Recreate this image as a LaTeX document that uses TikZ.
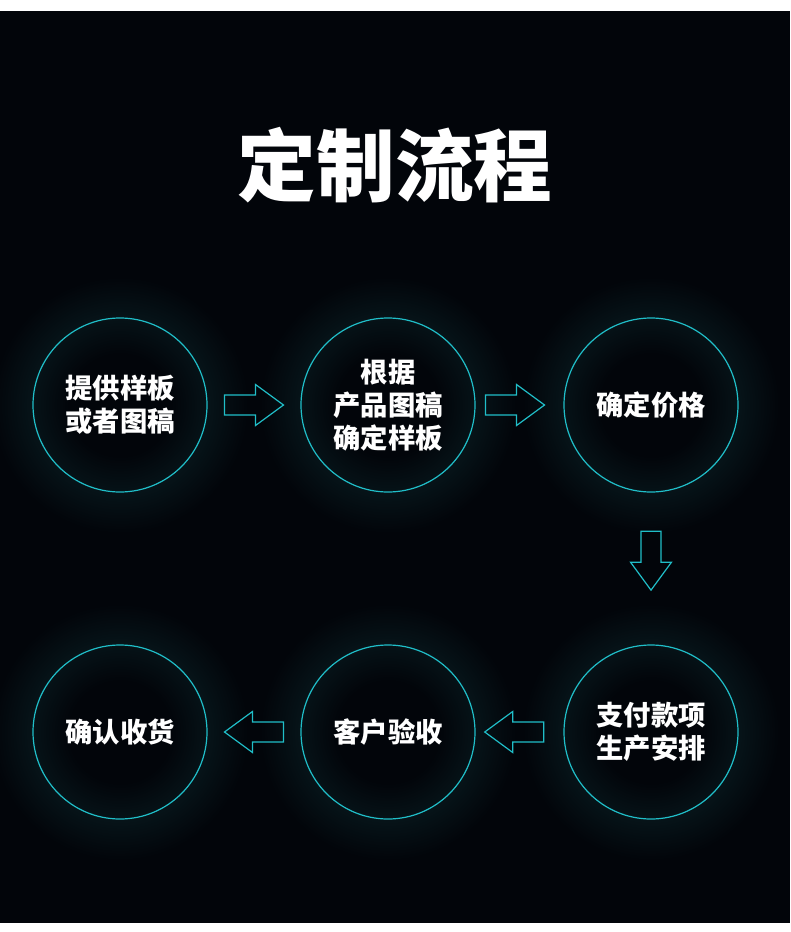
\documentclass[tikz,border=0pt]{standalone}
\usepackage{fontspec}
\newfontfamily\cjk{Noto Sans CJK SC}
\usetikzlibrary{calc, positioning}

\definecolor{bgdark}{RGB}{2,5,10}
\definecolor{ringcyan}{RGB}{32,190,200}
\definecolor{glowteal}{RGB}{6,19,24}

\pgfdeclareradialshading{ringglow}{\pgfpoint{0bp}{0bp}}{%
  color(0bp)=(bgdark); color(10bp)=(bgdark); color(17.4bp)=(glowteal);
  color(25bp)=(bgdark); color(50bp)=(bgdark)}

\tikzset{
  stepcircle/.style={circle, draw=ringcyan, line width=0.9pt, minimum size=130.5pt,
    inner sep=0pt, align=center, text=white,
    font=\cjk\bfseries\fontsize{20.5}{24.8}\selectfont},
  arrowline/.style={draw=ringcyan, line width=0.9pt, line join=miter},
  flowarrow/.pic={
    \draw[arrowline] (-29.5,-10) -- (1.5,-10) -- (1.5,-20.5) -- (29.5,0)
      -- (1.5,20.5) -- (1.5,10) -- (-29.5,10) -- cycle;
  }
}

\begin{document}
\begin{tikzpicture}[x=0.75pt, y=-0.75pt]
    \useasboundingbox (0,0) rectangle (790,932);

    % 1. 背景
    \fill[white] (0,0) rectangle (790,932);
    \fill[bgdark] (0,11) rectangle (790,923);

    % 2. 标题
    \node[text=white, font=\cjk\bfseries\fontsize{59}{59}\selectfont] (title) at (395,165) {定制流程};

    % 3. 光晕
    \foreach \cx/\cy in {120/405, 388/405, 651/405, 120/732, 388/732, 651/732}{
      \shade[shading=ringglow] (\cx,\cy) circle (128);
    }

    % 4. 流程圆
    \node[stepcircle] (s1) at (120,405) {提供样板\\或者图稿};
    \node[stepcircle] (s2) at (388,405) {根据\\产品图稿\\确定样板};
    \node[stepcircle] (s3) at (651,405) {确定价格};
    \node[stepcircle] (s4) at (651,732) {支付款项\\生产安排};
    \node[stepcircle] (s5) at (388,732) {客户验收};
    \node[stepcircle] (s6) at (120,732) {确认收货};

    % 5. 箭头
    \pic at ($(s1)!0.5!(s2)$) {flowarrow};
    \pic at ($(s2)!0.483!(s3)$) {flowarrow};
    \pic[rotate=-90] at ($(s3)!0.476!(s4)$) {flowarrow};
    \pic[rotate=180] at ($(s4)!0.52!(s5)$) {flowarrow};
    \pic[rotate=180] at ($(s5)!0.5!(s6)$) {flowarrow};

\end{tikzpicture}
\end{document}
